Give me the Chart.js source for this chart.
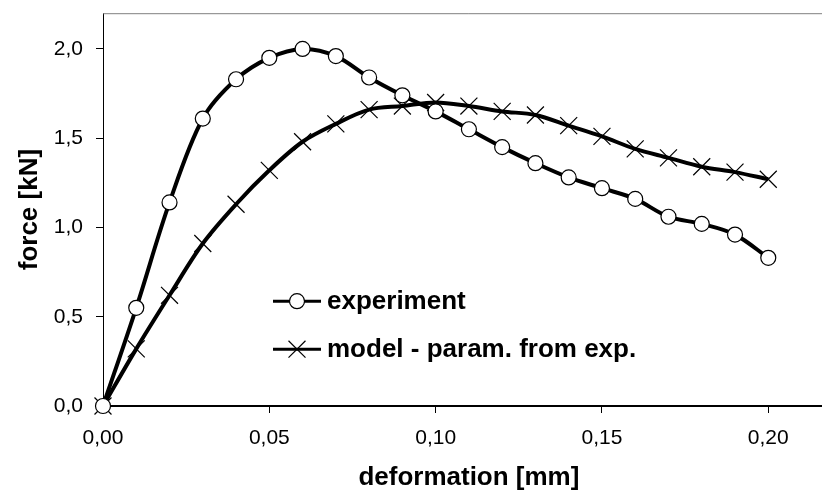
<!DOCTYPE html>
<html>
<head>
<meta charset="utf-8">
<script src="https://cdn.jsdelivr.net/npm/chart.js@4.4.1/dist/chart.umd.min.js"></script>
<style>
    html, body { margin: 0; padding: 0; background: #fff; overflow: hidden; }
    #myChart { display: block; }
</style>
</head>
<body>
<canvas id="myChart" width="848" height="493"></canvas>
<script>
var deformation = [0, 0.01, 0.02, 0.03, 0.04, 0.05, 0.06, 0.07, 0.08, 0.09, 0.10,
    0.11, 0.12, 0.13, 0.14, 0.15, 0.16, 0.17, 0.18, 0.19, 0.20];
var experiment = [0, 0.55, 1.14, 1.61, 1.83, 1.95, 2.00, 1.96, 1.84, 1.74, 1.65,
    1.55, 1.45, 1.36, 1.28, 1.22, 1.16, 1.06, 1.02, 0.96, 0.83];
var model = [0, 0.32, 0.62, 0.91, 1.13, 1.32, 1.48, 1.58, 1.66, 1.68, 1.70,
    1.68, 1.65, 1.63, 1.57, 1.51, 1.44, 1.39, 1.34, 1.31, 1.27];
var xTicks = [0, 0.05, 0.10, 0.15, 0.20];
var yTicks = [0, 0.5, 1.0, 1.5, 2.0];
var legendLabels = ['experiment', 'model - param. from exp.'];

var fontFamily = "'Liberation Sans', Arial, sans-serif";

function toPoints(ys) {
    return deformation.map(function (x, i) { return { x: x, y: ys[i] }; });
}

// top frame line + legend inside the plot
var framePlugin = {
    id: 'frameAndLegend',
    afterDraw: function (chart) {
        var ctx = chart.ctx;
        var a = chart.chartArea;
        ctx.save();
        ctx.strokeStyle = '#808080';
        ctx.lineWidth = 1;
        ctx.beginPath();
        ctx.moveTo(a.left, a.top + 0.5);
        ctx.lineTo(a.right, a.top + 0.5);
        ctx.stroke();

        var lx = a.left + 170, ly = a.top + 288, gap = 48;
        chart.data.datasets.forEach(function (ds, i) {
            var y = ly + i * gap;
            ctx.strokeStyle = '#000';
            ctx.lineWidth = 3;
            ctx.beginPath();
            ctx.moveTo(lx, y);
            ctx.lineTo(lx + 48, y);
            ctx.stroke();
            ctx.fillStyle = ds.pointBackgroundColor;
            ctx.strokeStyle = '#000';
            ctx.lineWidth = ds.pointBorderWidth;
            Chart.helpers.drawPoint(ctx, {
                pointStyle: ds.pointStyle,
                radius: ds.pointRadius,
                borderWidth: ds.pointBorderWidth
            }, lx + 24, y);
            ctx.fillStyle = '#000';
            ctx.font = 'bold 26px ' + fontFamily;
            ctx.textBaseline = 'middle';
            ctx.textAlign = 'left';
            ctx.fillText(legendLabels[i], lx + 54, y + 1);
        });
        ctx.restore();
    }
};

document.addEventListener('DOMContentLoaded', function () {
    var ctx = document.getElementById('myChart');

    new Chart(ctx, {
        type: 'line',
        data: {
            datasets: [{
                label: legendLabels[0],
                data: toPoints(experiment),
                borderColor: '#000',
                borderWidth: 4,
                tension: 0.33,
                clip: false,
                pointStyle: 'circle',
                pointRadius: 7.5,
                pointBackgroundColor: '#fff',
                pointBorderColor: '#000',
                pointBorderWidth: 1.2
            }, {
                label: legendLabels[1],
                data: toPoints(model),
                borderColor: '#000',
                borderWidth: 4,
                tension: 0.33,
                clip: false,
                pointStyle: 'crossRot',
                pointRadius: 12,
                pointBackgroundColor: '#fff',
                pointBorderColor: '#000',
                pointBorderWidth: 1.2
            }]
        },
        options: {
            responsive: false,
            animation: false,
            devicePixelRatio: 1,
            layout: { padding: { top: 11, right: 0, left: 0, bottom: 0 } },
            plugins: {
                legend: { display: false },
                tooltip: { enabled: false }
            },
            scales: {
                x: {
                    type: 'linear',
                    min: 0,
                    max: 0.22,
                    afterBuildTicks: function (axis) {
                        axis.ticks = xTicks.map(function (v) { return { value: v }; });
                    },
                    afterFit: function (axis) {
                        axis.height = 87;
                        axis.paddingLeft = 0;
                        axis.paddingRight = 0;
                    },
                    ticks: {
                        color: '#000',
                        padding: 13,
                        font: { family: fontFamily, size: 21 },
                        callback: function (v) { return v.toFixed(2).replace('.', ','); }
                    },
                    grid: { drawOnChartArea: false, tickLength: 7, tickColor: '#000', tickWidth: 1 },
                    border: { color: '#000', width: 2 },
                    title: {
                        display: true,
                        text: 'deformation [mm]',
                        color: '#000',
                        padding: { top: 0, bottom: 0 },
                        font: { family: fontFamily, size: 26, weight: 'bold' }
                    }
                },
                y: {
                    min: 0,
                    max: 2.2,
                    afterBuildTicks: function (axis) {
                        axis.ticks = yTicks.map(function (v) { return { value: v }; });
                    },
                    afterFit: function (axis) {
                        axis.width = 103;
                        axis.paddingTop = 0;
                        axis.paddingBottom = 0;
                    },
                    ticks: {
                        color: '#000',
                        padding: 13,
                        font: { family: fontFamily, size: 21 },
                        callback: function (v) { return v.toFixed(1).replace('.', ','); }
                    },
                    grid: { drawOnChartArea: false, tickLength: 7, tickColor: '#000', tickWidth: 1 },
                    border: { color: '#000', width: 1 },
                    title: {
                        display: true,
                        text: 'force [kN]',
                        color: '#000',
                        padding: { top: 14, bottom: 0 },
                        font: { family: fontFamily, size: 26, weight: 'bold' }
                    }
                }
            }
        },
        plugins: [framePlugin]
    });
});
</script>
</body>
</html>
